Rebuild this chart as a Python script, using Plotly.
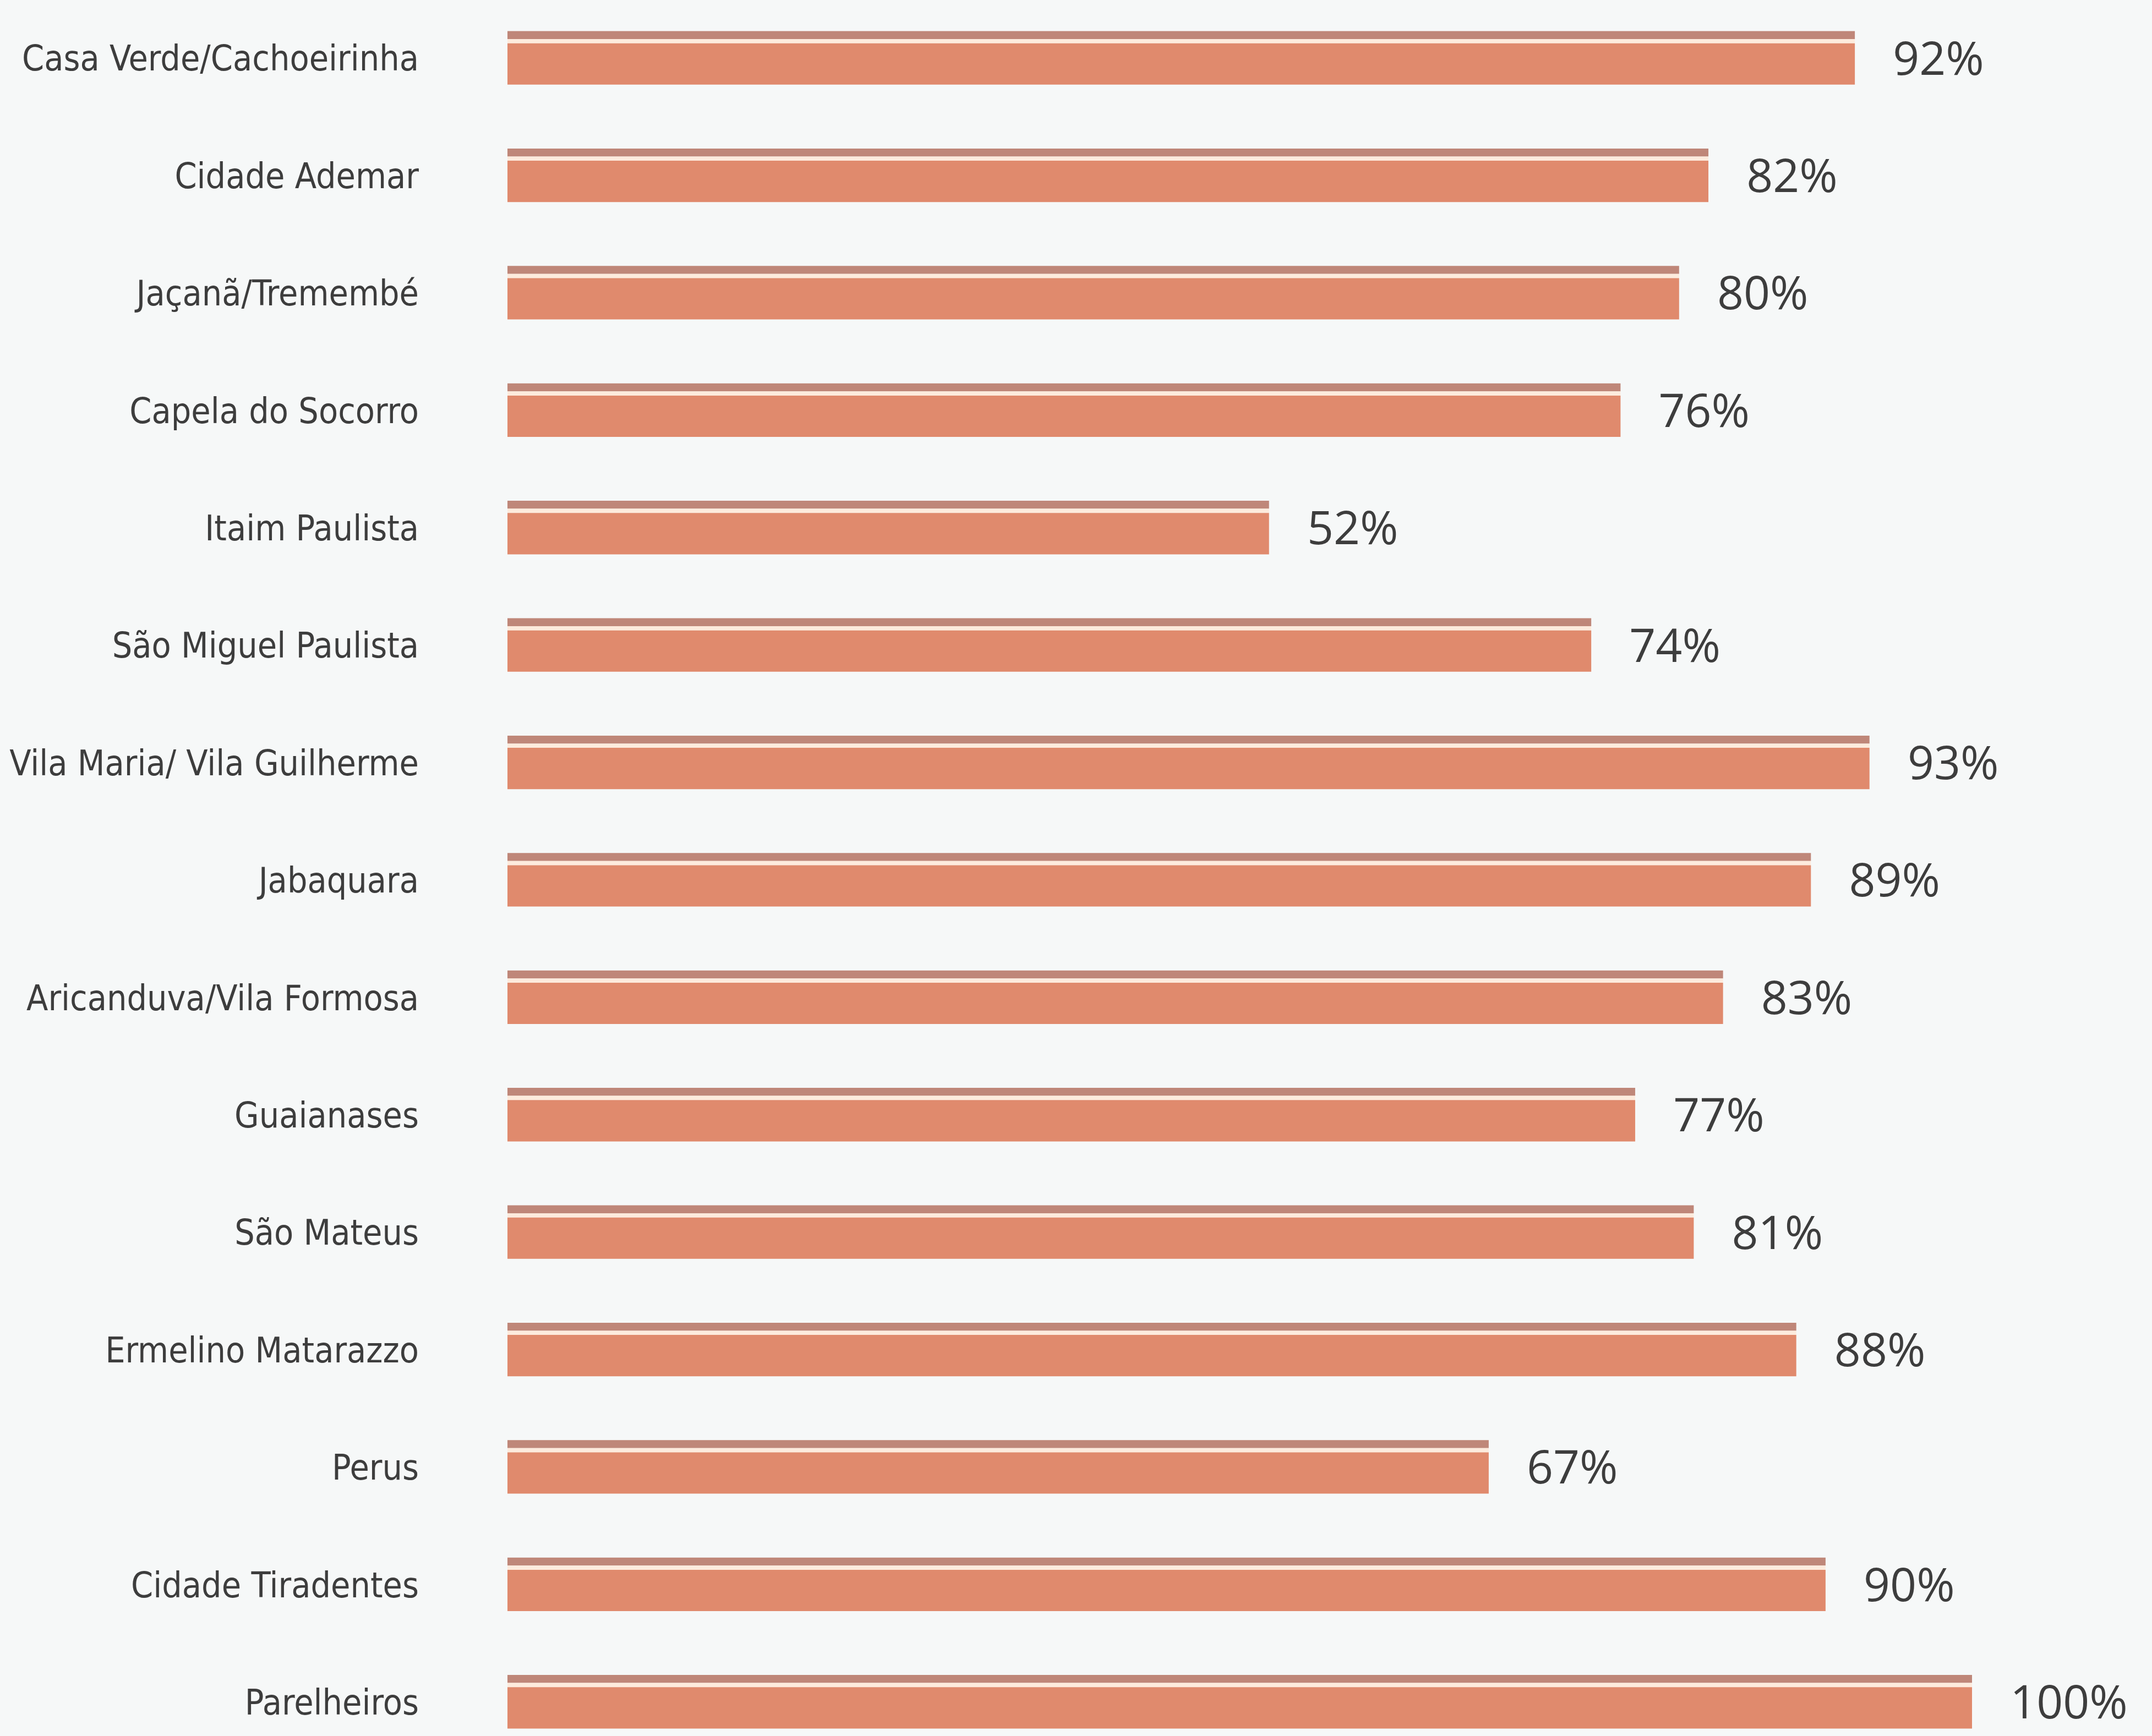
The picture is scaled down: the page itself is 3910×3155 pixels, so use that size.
import plotly.graph_objects as go

# Share per district (%)
districts = [
    "Casa Verde/Cachoeirinha",
    "Cidade Ademar",
    "Jaçanã/Tremembé",
    "Capela do Socorro",
    "Itaim Paulista",
    "São Miguel Paulista",
    "Vila Maria/ Vila Guilherme",
    "Jabaquara",
    "Aricanduva/Vila Formosa",
    "Guaianases",
    "São Mateus",
    "Ermelino Matarazzo",
    "Perus",
    "Cidade Tiradentes",
    "Parelheiros",
]
values = [92, 82, 80, 76, 52, 74, 93, 89, 83, 77, 81, 88, 67, 90, 100]
value_labels = [f"{v}%" for v in values]

rows = list(range(len(districts)))

FRONT = "#E08A6D"
TOP = "#BF8779"
SHINE = "#FDEBDD"
TEXT = "#3d3d3d"
BG = "#f6f8f8"

fig = go.Figure()

# top face of each bar
fig.add_trace(go.Bar(
    y=rows, x=values, orientation="h",
    offset=-0.232, width=0.068,
    marker=dict(color=TOP, line=dict(width=0)),
    hoverinfo="skip", showlegend=False,
))
# light edge between top and front
fig.add_trace(go.Bar(
    y=rows, x=values, orientation="h",
    offset=-0.164, width=0.036,
    marker=dict(color=SHINE, line=dict(width=0)),
    hoverinfo="skip", showlegend=False,
))
# front face
fig.add_trace(go.Bar(
    y=rows, x=values, orientation="h",
    offset=-0.128, width=0.352,
    marker=dict(color=FRONT, line=dict(width=0)),
    showlegend=False,
))

# value labels to the right of each bar
fig.add_trace(go.Scatter(
    x=[v + 2.6 for v in values],
    y=[r + 0.04 for r in rows],
    mode="text",
    text=value_labels,
    textposition="middle right",
    textfont=dict(family="Open Sans, Liberation Sans, sans-serif", size=84, color=TEXT),
    hoverinfo="skip", showlegend=False,
))

px_per_row = 213.4
top_row_px = 106
H = 3155
y_top = -top_row_px / px_per_row
y_bottom = y_top + H / px_per_row

fig.update_layout(
    width=3910, height=H,
    margin=dict(l=922, r=0, t=0, b=0, autoexpand=False),
    paper_bgcolor=BG,
    plot_bgcolor=BG,
    barmode="overlay",
    xaxis=dict(range=[0, (3910 - 922) / 26.61], visible=False, showgrid=False,
               zeroline=False, automargin=False),
    yaxis=dict(
        range=[y_bottom, y_top],
        automargin=False,
        tickmode="array", tickvals=rows, ticktext=districts,
        showgrid=False, zeroline=False, showline=False, ticks="",
        ticklabelstandoff=160,
        tickfont=dict(family="DejaVu Sans Condensed, sans-serif", size=64, color=TEXT),
    ),
)

fig.write_html("out.html")
